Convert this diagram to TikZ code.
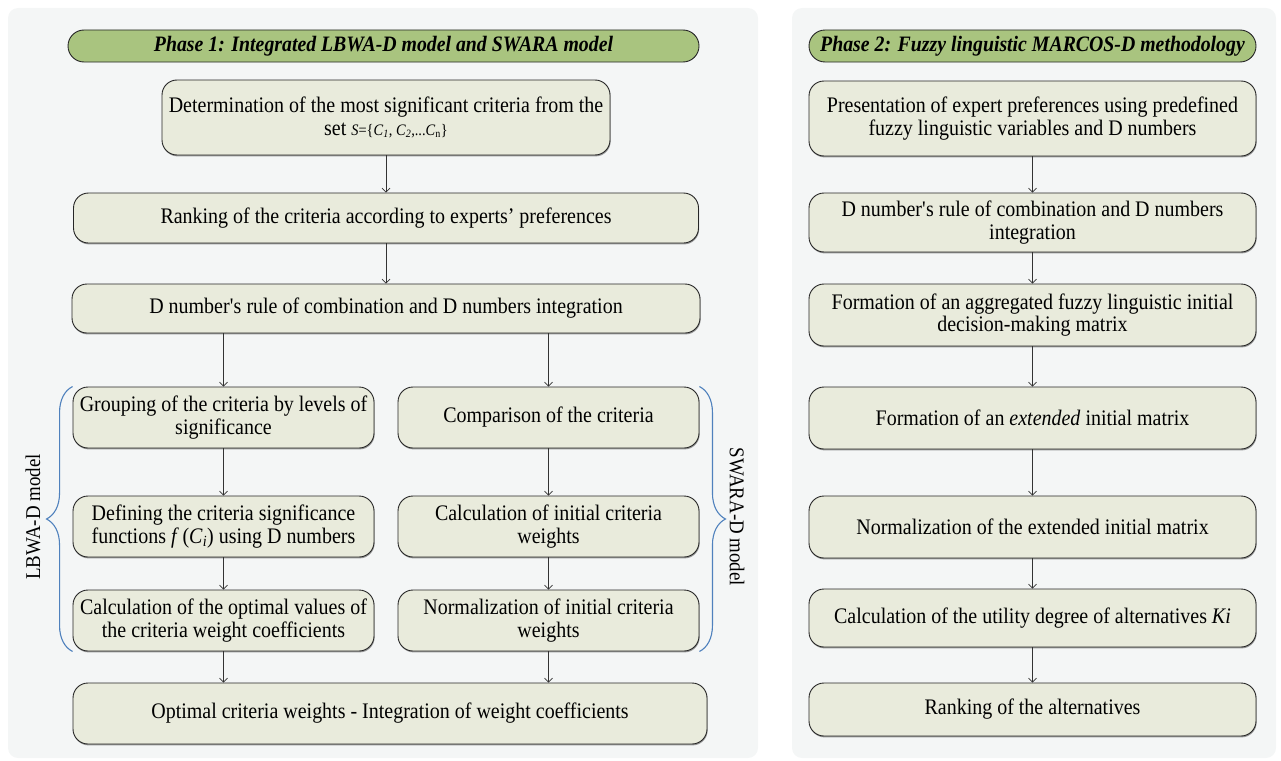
\documentclass[tikz,border=0pt]{standalone}
\usepackage{fontspec}
\setmainfont[FakeStretch=0.9]{Liberation Serif}
\usetikzlibrary{arrows.meta,decorations.pathreplacing,shadows}

\definecolor{panelgray}{HTML}{F4F6F6}
\definecolor{phasegreen}{HTML}{A9C47F}
\definecolor{boxfill}{HTML}{E9EBDC}
\definecolor{bracecol}{HTML}{4F81BD}

\tikzset{
  panel/.style={fill=panelgray, rounded corners=10pt},
  phase/.style={draw=black!85, fill=phasegreen, rounded corners=16pt, inner sep=0pt,
    minimum height=32pt, line width=0.9pt, font=\fontsize{22}{22}\selectfont\bfseries\itshape},
  box/.style={draw=black!85, fill=boxfill, rounded corners=15pt, align=center, inner sep=0pt,
    line width=0.9pt, font=\fontsize{22.2}{22.5}\selectfont,
    drop shadow={shadow xshift=0.6pt, shadow yshift=-1.4pt, opacity=0.55, fill=black!70}},
  link/.style={-{Straight Barb[length=4pt,width=8pt]}, line width=0.7pt, black!80},
  modelbrace/.style={draw=bracecol, line width=1.1pt, decorate, decoration={brace, amplitude=26pt}},
  modeltext/.style={font=\fontsize{21}{22}\selectfont}
}

\begin{document}
\begin{tikzpicture}[x=1pt,y=-1pt]
        \useasboundingbox (0,0) rectangle (1281,760);
        \fill[panel] (8,8) rectangle (758,758);
        \fill[panel] (792,8) rectangle (1276,758);

        % phase 1
        \node[phase, minimum width=631pt] (ph1) at (383.5,46) {Phase 1: Integrated LBWA-D model and SWARA model};
        \node[box, minimum width=448pt, minimum height=75pt] (det) at (386,117.5) {Determination of the most significant criteria from the\\ set {\fontsize{16}{18}\selectfont\textit{S}=\{\textit{C}\textsubscript{\textit{1}}, \textit{C}\textsubscript{\textit{2}},...\textit{C}\textsubscript{n}\}}};
        \node[box, minimum width=625pt, minimum height=50pt] (rank) at (386,218) {Ranking of the criteria according to experts’ preferences};
        \node[box, minimum width=628pt, minimum height=49pt] (dnum) at (386,308.5) {D number\textquotesingle s rule of combination and D numbers integration};
        \node[box, minimum width=301pt, minimum height=61pt] (group) at (223.5,417.5) {Grouping of the criteria by levels of\\ significance};
        \node[box, minimum width=301pt, minimum height=61pt] (compare) at (548.5,417.5) {Comparison of the criteria};
        \node[box, minimum width=301pt, minimum height=61pt] (define) at (223.5,526.5) {Defining the criteria significance\\ functions \textit{f}\,(\textit{C}\textsubscript{\textit{i}}) using D numbers};
        \node[box, minimum width=301pt, minimum height=61pt] (initw) at (548.5,526.5) {Calculation of initial criteria\\ weights};
        \node[box, minimum width=301pt, minimum height=61pt] (optval) at (223.5,620.5) {Calculation of the optimal values of\\ the criteria weight coefficients};
        \node[box, minimum width=301pt, minimum height=61pt] (normw) at (548.5,620.5) {Normalization of initial criteria\\ weights};
        \node[box, minimum width=634pt, minimum height=61pt] (final) at (390,713.5) {Optimal criteria weights - Integration of weight coefficients};

        \draw[link] (det)--(rank);
        \draw[link] (rank)--(dnum);
        \draw[link] (dnum.south -| group.north)--(group);
        \draw[link] (dnum.south -| compare.north)--(compare);
        \draw[link] (group)--(define);
        \draw[link] (define)--(optval);
        \draw[link] (compare)--(initw);
        \draw[link] (initw)--(normw);
        \draw[link] (optval)--(optval.south |- final.north);
        \draw[link] (normw)--(normw.south |- final.north);

        % model braces
        \draw[modelbrace] (optval.south west)--(group.north west);
        \draw[modelbrace] (compare.north east)--(normw.south east);
        \node[modeltext, rotate=90] (lbwa) at (33,517) {LBWA-D model};
        \node[modeltext, rotate=-90] (swara) at (737,517) {SWARA-D model};

        % phase 2
        \node[phase, minimum width=447pt] (ph2) at (1032.5,46) {Phase 2: Fuzzy linguistic MARCOS-D methodology};
        \node[box, minimum width=447pt, minimum height=75pt] (pres) at (1032.5,118.5) {Presentation of expert preferences using predefined\\ fuzzy linguistic variables and D numbers};
        \node[box, minimum width=447pt, minimum height=59pt] (dnumb) at (1032.5,222.5) {D number\textquotesingle s rule of combination and D numbers\\ integration};
        \node[box, minimum width=447pt, minimum height=62pt] (aggr) at (1032.5,315) {Formation of an aggregated fuzzy linguistic initial\\ decision-making matrix};
        \node[box, minimum width=447pt, minimum height=62pt] (ext) at (1032.5,418) {Formation of an \textit{extended} initial matrix};
        \node[box, minimum width=447pt, minimum height=62pt] (norm) at (1032.5,527) {Normalization of the extended initial matrix};
        \node[box, minimum width=447pt, minimum height=58pt] (util) at (1032.5,618) {Calculation of the utility degree of alternatives \textit{Ki}};
        \node[box, minimum width=447pt, minimum height=53pt] (rankalt) at (1032.5,709.5) {Ranking of the alternatives};

        \draw[link] (pres)--(dnumb);
        \draw[link] (dnumb)--(aggr);
        \draw[link] (aggr)--(ext);
        \draw[link] (ext)--(norm);
        \draw[link] (norm)--(util);
        \draw[link] (util)--(rankalt);
        \end{tikzpicture}
\end{document}
